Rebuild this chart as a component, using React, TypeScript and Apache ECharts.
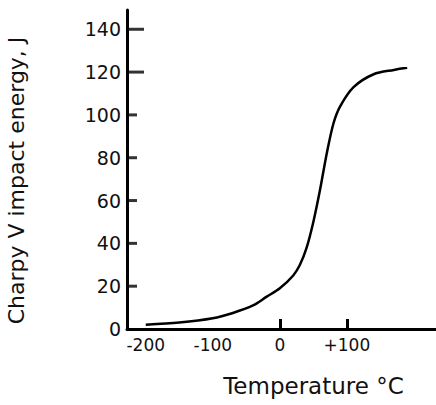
import React, { useEffect, useRef } from "react";
import * as echarts from "echarts";

const temps = [-200, -150, -100, -70, -40, -20, 0, 20, 30, 40, 50, 60, 70, 80, 90, 110, 140, 170, 190];
const energy = [2, 3, 5, 7.5, 11, 15, 19, 25, 30, 38, 50, 65, 82, 96, 104, 113, 119, 121, 122];
const xTickValues = [-200, -100, 0, 100];
const xTickLabels = ["-200", "-100", "0", "+100"];
const xMarkedTicks = [0, 100];
const yTickValues = [0, 20, 40, 60, 80, 100, 120, 140];
const yTickLabels = ["0", "20", "40", "60", "80", "100", "120", "140"];
const yShortTicks = [20, 40, 60, 80, 100];
const yLongTicks = [120, 140];

const FONT = "DejaVu Sans";
const X_MIN = -228;
const X_MAX = 233;

export default function App() {
  const ref = useRef<HTMLDivElement>(null);
  useEffect(() => {
    if (!ref.current) return;
    const chart = echarts.init(ref.current, undefined, { renderer: "svg" });
    const data = temps.map((t, i) => [t, energy[i]]);
    chart.setOption({
      animation: false,
      backgroundColor: "#ffffff",
      grid: { left: 127, right: 0, top: 10, bottom: 76, containLabel: false, outerBoundsMode: "none" },
      xAxis: {
        type: "value",
        min: X_MIN,
        max: X_MAX,
        name: "Temperature °C",
        nameLocation: "middle",
        nameGap: 45,
        nameTextStyle: { fontFamily: FONT, fontSize: 23, color: "#111", padding: [0, 0, 0, 64] },
        splitLine: { show: false },
        axisLine: { show: true, onZero: false, lineStyle: { color: "#000", width: 3 } },
        axisTick: { show: true, inside: true, length: 10, customValues: xMarkedTicks, lineStyle: { color: "#000", width: 3 } },
        axisLabel: {
          customValues: xTickValues,
          formatter: (v: number) => xTickLabels[xTickValues.indexOf(v)] ?? "",
          fontFamily: FONT,
          fontSize: 17,
          color: "#111",
          margin: 7,
        },
      },
      yAxis: {
        type: "value",
        min: 0,
        max: 149,
        name: "Charpy V impact energy, J",
        nameLocation: "middle",
        nameGap: 100,
        nameRotate: 90,
        nameTextStyle: { fontFamily: FONT, fontSize: 22, color: "#111", padding: [0, 22, 0, 0] },
        splitLine: { show: false },
        axisLine: { show: true, onZero: false, lineStyle: { color: "#000", width: 3 } },
        axisTick: { show: false },
        axisLabel: {
          customValues: yTickValues,
          formatter: (v: number) => yTickLabels[yTickValues.indexOf(v)] ?? "",
          fontFamily: FONT,
          fontSize: 19,
          color: "#111",
          margin: 6,
        },
      },
      series: [
        {
          type: "line",
          data,
          smooth: 0.3,
          showSymbol: false,
          lineStyle: { color: "#000", width: 2.5 },
        },
        {
          type: "scatter",
          silent: true,
          clip: false,
          data: yShortTicks.map((v) => [X_MIN, v]),
          symbol: "rect",
          symbolSize: [10, 3],
          symbolOffset: [5, 0],
          itemStyle: { color: "#000" },
          z: 5,
        },
        {
          type: "scatter",
          silent: true,
          clip: false,
          data: yLongTicks.map((v) => [X_MIN, v]),
          symbol: "rect",
          symbolSize: [17, 3],
          symbolOffset: [8.5, 0],
          itemStyle: { color: "#000" },
          z: 5,
        },
      ],
    });
    return () => chart.dispose();
  }, []);
  return (
    <div
      ref={ref}
      style={{ position: "fixed", left: 0, top: 0, width: 436, height: 405, background: "#fff" }}
    />
  );
}
